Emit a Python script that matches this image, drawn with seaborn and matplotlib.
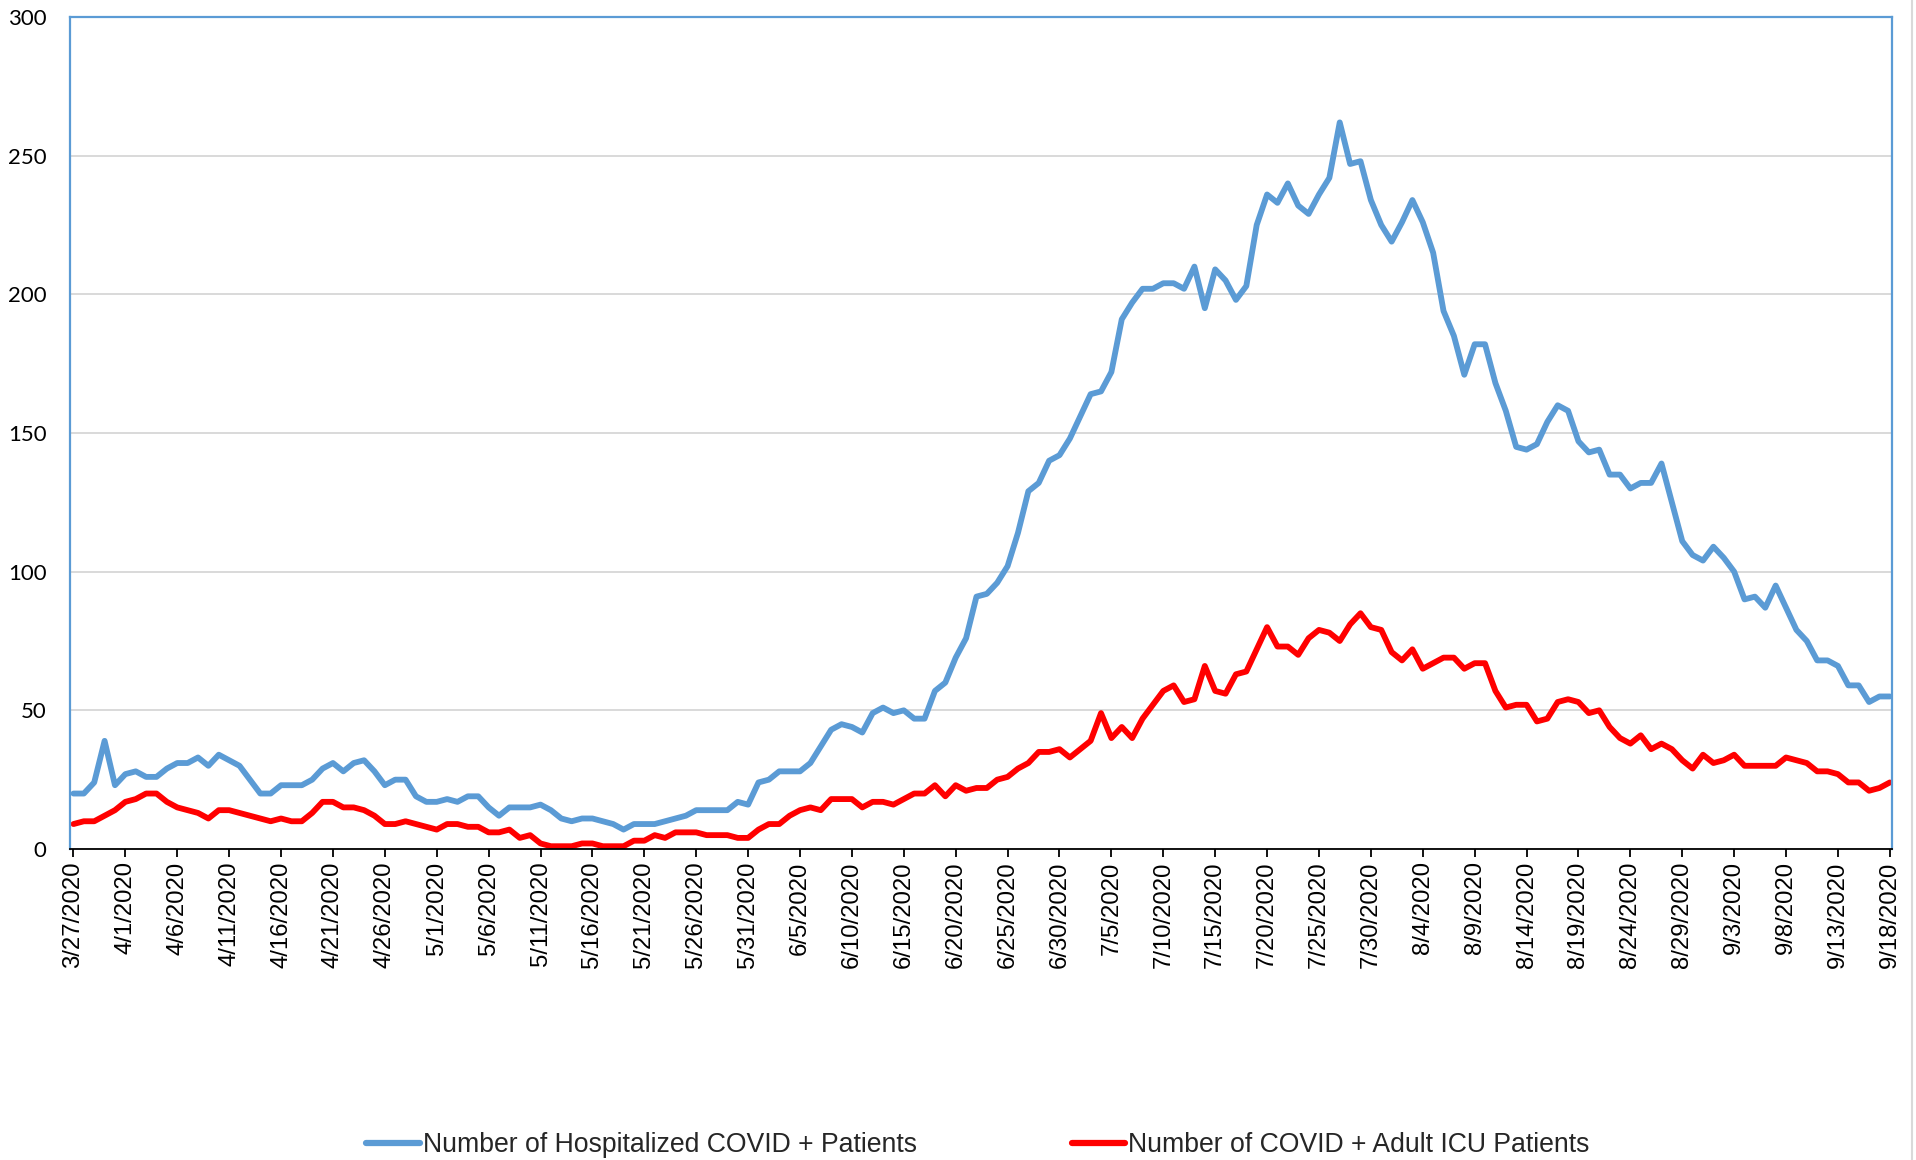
import numpy as np
import pandas as pd
import matplotlib
matplotlib.use("Agg")
import matplotlib.pyplot as plt
from matplotlib.lines import Line2D
import seaborn as sns

# ---------------- data ----------------
start_date = "2020-03-27"
n_days = 176

hospitalized = [
    20, 20, 24, 39, 23, 27, 28, 26, 26, 29,
    31, 31, 33, 30, 34, 32, 30, 25, 20, 20,
    23, 23, 23, 25, 29, 31, 28, 31, 32, 28,
    23, 25, 25, 19, 17, 17, 18, 17, 19, 19,
    15, 12, 15, 15, 15, 16, 14, 11, 10, 11,
    11, 10, 9, 7, 9, 9, 9, 10, 11, 12,
    14, 14, 14, 14, 17, 16, 24, 25, 28, 28,
    28, 31, 37, 43, 45, 44, 42, 49, 51, 49,
    50, 47, 47, 57, 60, 69, 76, 91, 92, 96,
    102, 114, 129, 132, 140, 142, 148, 156, 164, 165,
    172, 191, 197, 202, 202, 204, 204, 202, 210, 195,
    209, 205, 198, 203, 225, 236, 233, 240, 232, 229,
    236, 242, 262, 247, 248, 234, 225, 219, 226, 234,
    226, 215, 194, 185, 171, 182, 182, 168, 158, 145,
    144, 146, 154, 160, 158, 147, 143, 144, 135, 135,
    130, 132, 132, 139, 125, 111, 106, 104, 109, 105,
    100, 90, 91, 87, 95, 87, 79, 75, 68, 68,
    66, 59, 59, 53, 55, 55,
]

icu = [
    9, 10, 10, 12, 14, 17, 18, 20, 20, 17,
    15, 14, 13, 11, 14, 14, 13, 12, 11, 10,
    11, 10, 10, 13, 17, 17, 15, 15, 14, 12,
    9, 9, 10, 9, 8, 7, 9, 9, 8, 8,
    6, 6, 7, 4, 5, 2, 1, 1, 1, 2,
    2, 1, 1, 1, 3, 3, 5, 4, 6, 6,
    6, 5, 5, 5, 4, 4, 7, 9, 9, 12,
    14, 15, 14, 18, 18, 18, 15, 17, 17, 16,
    18, 20, 20, 23, 19, 23, 21, 22, 22, 25,
    26, 29, 31, 35, 35, 36, 33, 36, 39, 49,
    40, 44, 40, 47, 52, 57, 59, 53, 54, 66,
    57, 56, 63, 64, 72, 80, 73, 73, 70, 76,
    79, 78, 75, 81, 85, 80, 79, 71, 68, 72,
    65, 67, 69, 69, 65, 67, 67, 57, 51, 52,
    52, 46, 47, 53, 54, 53, 49, 50, 44, 40,
    38, 41, 36, 38, 36, 32, 29, 34, 31, 32,
    34, 30, 30, 30, 30, 33, 32, 31, 28, 28,
    27, 24, 24, 21, 22, 24,
]

series_names = ["Number of Hospitalized COVID + Patients",
                "Number of COVID + Adult ICU Patients"]
series_colors = ["#5B9BD5", "#FF0000"]
y_ticks = [0, 50, 100, 150, 200, 250, 300]
tick_step_days = 5

dates = pd.date_range(start_date, periods=n_days, freq="D")
tick_dates = dates[::tick_step_days]
tick_labels = [f"{d.month}/{d.day}/{d.year}" for d in tick_dates]

df = pd.concat([
    pd.DataFrame({"date": dates, "value": hospitalized, "series": series_names[0]}),
    pd.DataFrame({"date": dates, "value": icu, "series": series_names[1]}),
])

# ---------------- plot ----------------
sns.set_style("white")
plt.rcParams["font.family"] = ["Liberation Sans", "DejaVu Sans"]

W, H = 1916, 1160
fig = plt.figure(figsize=(W / 100, H / 100), dpi=100)
ax = fig.add_axes([70 / W, 1 - 849 / H, (1892 - 70) / W, (849 - 17) / H])

sns.lineplot(data=df, x="date", y="value", hue="series",
             palette=series_colors, hue_order=series_names,
             linewidth=4.2, ax=ax, legend=False)

ax.set_ylim(0, 300)
ax.set_yticks(y_ticks)
ax.set_xlim(dates[0] - pd.Timedelta(hours=8), dates[-1] + pd.Timedelta(hours=5))
ax.set_xticks(tick_dates)
ax.set_xticklabels(tick_labels, rotation=90, fontsize=17.2,
                   family=["Liberation Sans", "DejaVu Sans"])
ax.set_yticklabels([str(v) for v in y_ticks], fontsize=16,
                   family=["Lato", "DejaVu Sans"])
ax.set_xlabel("")
ax.set_ylabel("")

ax.yaxis.grid(True, color="#D9D9D9", linewidth=1.4)
ax.xaxis.grid(False)
ax.set_axisbelow(True)

for side in ["left", "top", "right"]:
    ax.spines[side].set_color("#5B9BD5")
    ax.spines[side].set_linewidth(1.6)
ax.spines["bottom"].set_color("black")
ax.spines["bottom"].set_linewidth(1.3)

ax.tick_params(axis="x", direction="out", length=6, width=1.3,
               color="black", pad=3, labelcolor="black", bottom=True)
ax.tick_params(axis="y", length=0, pad=17, labelcolor="black")

handles = [Line2D([0], [0], color=c, linewidth=4.5) for c in series_colors]
fig.legend(handles, series_names, loc="center",
           bbox_to_anchor=(978 / W, 1 - 1145 / H), ncol=2, frameon=False,
           fontsize=19.2, handlelength=2.0, handletextpad=0.12,
           columnspacing=5.8)

# outer chart-area edge on the right
fig.add_artist(Line2D([1912 / W, 1912 / W], [0, 1], color="#D9D9D9",
                      linewidth=1.5, transform=fig.transFigure))

fig.savefig("out.png", dpi=100)
